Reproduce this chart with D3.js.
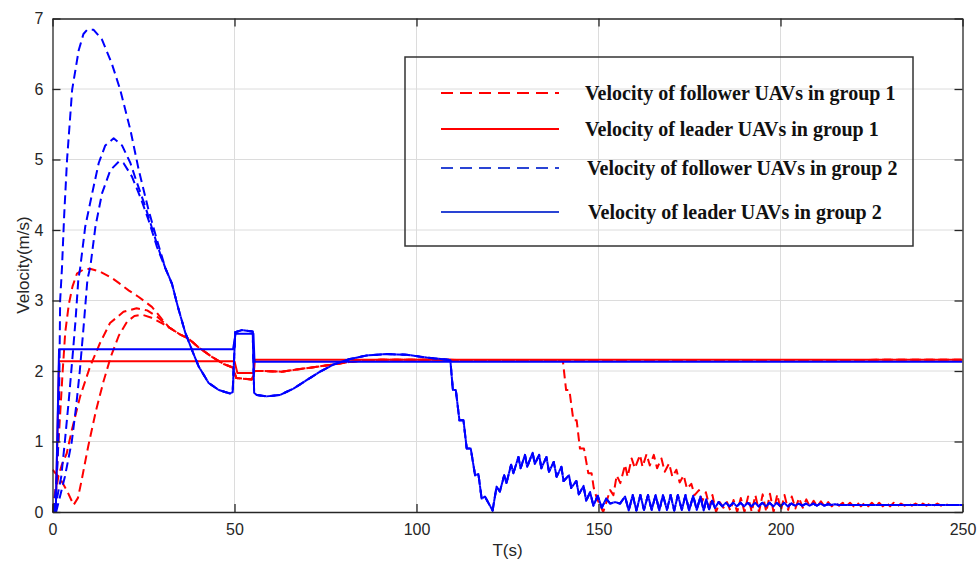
<!DOCTYPE html>
<html>
<head>
<meta charset="utf-8">
<script src="https://cdn.jsdelivr.net/npm/d3@7"></script>
<style>
body { margin: 0; background: #fff; }
svg { display: block; }
.tick text { font-family: "Liberation Sans", Arial, Helvetica, sans-serif; font-size: 16px; fill: #262626; }
</style>
</head>
<body>
<div id="graphId"></div>
<script>
var wt = 979;
var ht = 562;

// axis ticks
var xTicks = [0, 50, 100, 150, 200, 250];
var yTicks = [0, 1, 2, 3, 4, 5, 6, 7];

// group 1 leader (red solid)
var redLeader = [[0, 0], [0.9, 0], [1.8, 2.14], [50, 2.14], [50.8, 1.97], [55.3, 1.97], [55.6, 2.16], [250, 2.16]];

// group 1 followers, early parts (red dashed)
var redF1 = [[0, 0], [1, 0.4], [2, 1.3], [2.8, 2.0], [3.5, 2.55], [4.5, 2.95], [5.5, 3.2], [6.7, 3.38], [8.5, 3.44], [10.3, 3.45],
  [13, 3.41], [16, 3.33], [18.2, 3.25], [21, 3.14], [23.7, 3.05], [27.3, 2.91], [30, 2.74]];
var redF2 = [[0, 0], [0.8, 0.25], [1.6, 0.5], [2.5, 0.66], [3.9, 0.83], [5.3, 1.16], [7.6, 1.64], [10.3, 2.06], [13, 2.39],
  [15.8, 2.68], [19.5, 2.84], [23.1, 2.89], [26, 2.86], [29, 2.76]];
var redF3 = [[0, 0.6], [2, 0.48], [4, 0.3], [5.8, 0.1], [7, 0.2], [8, 0.45], [9.8, 0.93], [12, 1.45], [14, 1.85], [16, 2.2],
  [18.2, 2.5], [20.5, 2.7], [22.5, 2.78], [24.5, 2.8], [27, 2.76], [30, 2.68]];
// shared part of the group 1 followers
var redMid = [[32, 2.62], [35, 2.52], [37.4, 2.46], [40, 2.34], [43.8, 2.2], [47, 2.1], [49.5, 2.05], [50.5, 1.9], [54.8, 1.88],
  [55.5, 2.0], [58, 2.0], [63, 1.99], [67, 2.02], [72.6, 2.06], [78, 2.1], [81.7, 2.13], [86, 2.15], [90, 2.16], [100, 2.16], [140.2, 2.15]];
var redEnd = [[250, 2.16]];
// one group 1 follower slows down after t = 140
var redDrop = [[141.1, 1.73], [142, 1.73], [143.1, 1.3], [144, 1.3], [144.9, 0.9], [146, 0.9], [147.2, 0.55], [148.1, 0.55],
  [148.7, 0.34], [149.5, 0.2], [151.3, 0.0], [153.2, 0.31], [154.1, 0.24], [155, 0.52], [156, 0.41], [157.3, 0.67], [158, 0.5],
  [159.1, 0.76], [160, 0.62], [161.4, 0.81], [162.1, 0.64], [163.2, 0.82], [164.1, 0.66], [165.2, 0.81], [166.1, 0.62],
  [167.3, 0.76], [168.2, 0.57], [169.4, 0.69], [170.3, 0.5], [171.4, 0.6], [172.3, 0.42], [173.4, 0.52], [174.3, 0.33],
  [175.5, 0.4], [176.4, 0.24], [177.6, 0.31], [178.5, 0.15], [179.5, 0.28], [180.5, 0.07], [181.3, 0.24], [182.3, 0.0],
  [183.3, 0.14], [184.3, 0.06], [185.3, 0.14], [186.2, 0.02], [187.1, 0.17], [188.1, 0.0], [189.1, 0.2], [190.1, 0.0],
  [191.1, 0.22], [192.1, 0.0], [193.1, 0.24], [194.1, 0.0], [195.1, 0.25], [196.1, 0.0], [197.1, 0.26], [198.1, 0.0],
  [199.1, 0.25], [200.1, 0.02], [201.1, 0.24], [202.1, 0.03], [203.1, 0.22], [204.1, 0.05], [205.1, 0.2], [206.1, 0.06],
  [207.1, 0.18], [208.1, 0.07], [209.1, 0.16], [210.1, 0.08], [211.1, 0.15], [212.1, 0.08], [213.1, 0.14], [214.1, 0.08],
  [215.1, 0.13], [216.1, 0.09], [217.1, 0.13], [218.1, 0.08], [219.1, 0.13], [220.1, 0.08], [221.1, 0.13], [222.1, 0.08],
  [223.1, 0.13], [224.1, 0.08], [225.1, 0.13], [226.1, 0.08], [227.1, 0.13], [228.1, 0.08], [229.1, 0.13], [230.1, 0.08],
  [231.1, 0.13], [232.1, 0.08], [233.1, 0.12], [234.1, 0.09], [235.1, 0.12], [236.1, 0.09], [237.1, 0.12], [238.1, 0.09],
  [239.1, 0.12], [240.1, 0.09], [241.1, 0.12], [242.1, 0.09], [243.1, 0.12], [244.1, 0.09], [245.1, 0.11], [246.1, 0.1],
  [250, 0.1]];

// group 2 leader (blue solid)
var blueLeader = [[0, 0], [0.9, 0], [1.8, 2.31], [49.6, 2.31], [50.3, 2.53], [55.2, 2.53], [55.5, 2.13], [250, 2.13]];

// group 2 followers, early parts (blue dashed)
var blueF1 = [[0.3, 0], [1.2, 0.5], [1.6, 1.0], [1.9, 2.0], [2.1, 3.0], [2.6, 3.46], [3.2, 4.2], [4, 5.0], [5.4, 5.99],
  [7.2, 6.55], [8.5, 6.78], [9.5, 6.84], [11.3, 6.84], [13.6, 6.7], [16.3, 6.36], [18.6, 5.99], [21.4, 5.42], [23.7, 4.85],
  [26.4, 4.28], [28.7, 3.86]];
var blueF2 = [[0.5, 0], [2.4, 0.5], [3.4, 1.0], [4.5, 1.6], [5.5, 2.2], [6.3, 2.7], [7.1, 3.3], [7.6, 3.46], [9, 4.05],
  [10.9, 4.52], [12.7, 4.95], [14.5, 5.2], [16.8, 5.3], [19.1, 5.2], [21.4, 4.95], [23.2, 4.67], [25.5, 4.33], [27.5, 4.0], [29.2, 3.72]];
var blueF3 = [[1, 0], [3.4, 0.5], [5.3, 1.0], [6.5, 1.5], [7.5, 2.0], [8.5, 2.6], [9.6, 3.3], [10.4, 3.48], [11.8, 4.05],
  [13.6, 4.52], [15.9, 4.85], [18.2, 4.97], [19.5, 4.95], [21.8, 4.76], [24.1, 4.47], [26.4, 4.14], [28.7, 3.76]];
// shared part of the group 2 followers
var blueMid = [[31, 3.46], [32.8, 3.24], [34.5, 2.9], [36.5, 2.54], [38.3, 2.3], [40.2, 2.06], [42.9, 1.83], [45.7, 1.73],
  [48.8, 1.68], [49.5, 1.7], [50.2, 2.55], [52, 2.58], [55, 2.56], [55.4, 1.69], [56.1, 1.66], [58.8, 1.64], [62.5, 1.66],
  [66.2, 1.75], [69.8, 1.87], [73.5, 1.99], [77.1, 2.09], [81.7, 2.17], [86.3, 2.22], [91.8, 2.24], [97.3, 2.23],
  [102.8, 2.19], [108.7, 2.16], [109.3, 2.15]];
var blueDrop = [[110, 1.73], [110.8, 1.73], [111.8, 1.3], [112.9, 1.3], [113.8, 0.9], [114.9, 0.9], [116.1, 0.52], [117, 0.54],
  [117.9, 0.19], [118.8, 0.22], [120.9, 0.02], [122, 0.36], [122.9, 0.29], [124.1, 0.52], [124.7, 0.41], [126, 0.67],
  [126.6, 0.55], [128, 0.78], [128.6, 0.62], [129.8, 0.81], [130.4, 0.64], [131.9, 0.84], [132.5, 0.68], [133.7, 0.81],
  [134.3, 0.62], [135.7, 0.78], [136.4, 0.57], [137.7, 0.71], [138.5, 0.5], [139.8, 0.64], [140.4, 0.44], [141.9, 0.52],
  [142.5, 0.34], [143.9, 0.44], [144.6, 0.25], [145.9, 0.37], [146.6, 0.16], [147.7, 0.28], [148.6, 0.09], [149.8, 0.23],
  [150.9, 0.06], [152.1, 0.19], [153.2, 0.12], [154.6, 0.14], [155.9, 0.12], [157.3, 0.22], [158.3, 0.02], [159.4, 0.24],
  [160.4, 0.02], [161.5, 0.24], [162.5, 0.03], [163.6, 0.24], [164.6, 0.03], [165.7, 0.24], [166.7, 0.02], [167.7, 0.24],
  [168.8, 0.03], [169.8, 0.24], [170.8, 0.02], [171.8, 0.24], [172.9, 0.03], [173.9, 0.24], [174.9, 0.02], [176, 0.23],
  [177, 0.03], [178, 0.22], [178.9, 0.02], [179.6, 0.18], [180.4, 0.04], [181.2, 0.16], [182, 0.06], [183, 0.14], [184, 0.08],
  [185, 0.13], [186, 0.08], [187, 0.13], [188, 0.08], [189, 0.13], [190, 0.08], [191, 0.13], [192, 0.08], [193, 0.13],
  [194, 0.08], [195, 0.13], [196, 0.08], [197, 0.13], [198, 0.08], [199, 0.13], [200, 0.08], [201, 0.13], [202, 0.08],
  [203, 0.12], [204, 0.09], [205, 0.12], [206, 0.09], [207, 0.12], [208, 0.09], [209, 0.12], [210, 0.09], [211, 0.12],
  [212, 0.09], [213, 0.11], [214, 0.1], [215, 0.11], [216, 0.1], [250, 0.1]];

var legendLabels = ["Velocity of follower UAVs in group 1", "Velocity of leader UAVs in group 1",
  "Velocity of follower UAVs in group 2", "Velocity of leader UAVs in group 2"];

var series = [
  { pts: redF2.concat(redMid, redEnd), color: "#ff0000", dash: "9,5" },
  { pts: redF3.concat(redMid, redEnd), color: "#ff0000", dash: "9,5" },
  { pts: redF1.concat(redMid, redDrop), color: "#ff0000", dash: "9,5" },
  { pts: redLeader, color: "#ff0000", dash: null },
  { pts: blueF1.concat(blueMid, blueDrop), color: "#0000ff", dash: "9,5" },
  { pts: blueF2.concat(blueMid, blueDrop), color: "#0000ff", dash: "9,5" },
  { pts: blueF3.concat(blueMid, blueDrop), color: "#0000ff", dash: "9,5" },
  { pts: blueLeader, color: "#0000ff", dash: null }
];

var x = d3.scaleLinear().domain([0, 250]).range([52.5, 962.5]);
var y = d3.scaleLinear().domain([0, 7]).range([512, 18.5]);

var svg = d3.select("#graphId").append("svg")
    .attr("width", wt)
    .attr("height", ht);

svg.append("rect").attr("width", wt).attr("height", ht).attr("fill", "#fff");

// grid
svg.append("g").selectAll("line").data(xTicks.slice(1, -1)).enter().append("line")
    .attr("x1", function (d) { return x(d); }).attr("x2", function (d) { return x(d); })
    .attr("y1", y(7)).attr("y2", y(0))
    .attr("stroke", "#dcdcdc").attr("stroke-width", 1);
svg.append("g").selectAll("line").data(yTicks.slice(1, -1)).enter().append("line")
    .attr("x1", x(0)).attr("x2", x(250))
    .attr("y1", function (d) { return y(d); }).attr("y2", function (d) { return y(d); })
    .attr("stroke", "#dcdcdc").attr("stroke-width", 1);

// data lines
var line = d3.line()
    .x(function (d) { return x(d[0]); })
    .y(function (d) { return y(d[1]); });

svg.append("clipPath").attr("id", "plotclip").append("rect")
    .attr("x", x(0)).attr("y", y(7)).attr("width", x(250) - x(0)).attr("height", y(0) - y(7) + 1);

svg.append("g").attr("clip-path", "url(#plotclip)")
    .selectAll("path").data(series).enter().append("path")
    .attr("d", function (d) { return line(d.pts); })
    .attr("fill", "none")
    .attr("stroke", function (d) { return d.color; })
    .attr("stroke-width", 2)
    .attr("stroke-linejoin", "round")
    .attr("stroke-dasharray", function (d) { return d.dash; });

// axes (box with ticks inside)
var fmt = d3.format("d");
svg.append("g")
    .attr("transform", "translate(0," + y(0) + ")")
    .call(d3.axisBottom(x).tickValues(xTicks).tickFormat(fmt).tickSizeInner(-8).tickSizeOuter(0).tickPadding(12));
svg.append("g")
    .attr("transform", "translate(" + x(0) + ",0)")
    .call(d3.axisLeft(y).tickValues(yTicks).tickFormat(fmt).tickSizeInner(-8).tickSizeOuter(0).tickPadding(9));
svg.append("g")
    .attr("transform", "translate(0," + y(7) + ")")
    .call(d3.axisTop(x).tickValues(xTicks).tickSizeInner(-8).tickSizeOuter(0).tickFormat(""));
svg.append("g")
    .attr("transform", "translate(" + x(250) + ",0)")
    .call(d3.axisRight(y).tickValues(yTicks).tickSizeInner(-8).tickSizeOuter(0).tickFormat(""));
svg.selectAll(".domain").attr("stroke", "#262626").attr("stroke-width", 1.3);
svg.selectAll(".tick line").attr("stroke", "#262626").attr("stroke-width", 1.3);

// axis titles
svg.append("text")
    .attr("x", (x(0) + x(250)) / 2).attr("y", 556)
    .attr("text-anchor", "middle")
    .style("font-family", "Liberation Sans, Arial, sans-serif").style("font-size", "17px").attr("fill", "#262626")
    .text("T(s)");
svg.append("text")
    .attr("transform", "translate(29," + 265 + ") rotate(-90)")
    .attr("text-anchor", "middle")
    .style("font-family", "Liberation Sans, Arial, sans-serif").style("font-size", "17px").attr("fill", "#262626")
    .text("Velocity(m/s)");

// legend
var legend = svg.append("g");
legend.append("rect")
    .attr("x", 405).attr("y", 57).attr("width", 508).attr("height", 189)
    .attr("fill", "none").attr("stroke", "#333").attr("stroke-width", 1.5);
var legRows = [
  { y: 93, color: "#ff0000", dash: "12,7", tx: 585 },
  { y: 129, color: "#ff0000", dash: null, tx: 585 },
  { y: 168, color: "#2a44d4", dash: "12,7", tx: 587 },
  { y: 212, color: "#2a44d4", dash: null, tx: 588 }
];
legRows.forEach(function (r, i) {
  legend.append("line")
      .attr("x1", 441).attr("x2", 559).attr("y1", r.y).attr("y2", r.y)
      .attr("stroke", r.color).attr("stroke-width", 1.8)
      .attr("stroke-dasharray", r.dash);
  legend.append("text")
      .attr("x", r.tx).attr("y", r.y + 7)
      .style("font-family", "Liberation Serif, Times New Roman, serif")
      .style("font-weight", "bold").style("font-size", "20px").attr("fill", "#111")
      .text(legendLabels[i]);
});
</script>
</body>
</html>
